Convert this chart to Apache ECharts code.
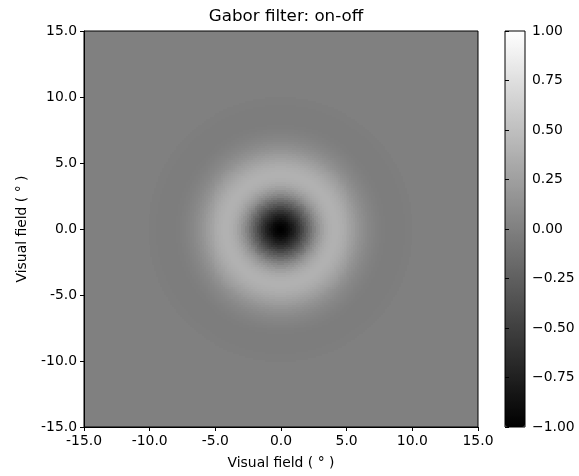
<!DOCTYPE html>
<html>
<head>
<meta charset="utf-8">
<script src="https://cdn.jsdelivr.net/npm/echarts@6/dist/echarts.min.js"></script>
<style>html,body{margin:0;padding:0;background:#fff;}#c{width:579px;height:476px;}</style>
</head>
<body>
<div id="c"></div>
<script>
var radialStep = 0.1;
var radialProfile = [
 -1.000,-0.998,-0.990,-0.978,-0.962,-0.940,-0.915,-0.885,-0.851,-0.813,
 -0.773,-0.729,-0.682,-0.633,-0.583,-0.530,-0.476,-0.422,-0.367,-0.312,
 -0.257,-0.203,-0.150,-0.098,-0.048, 0.000, 0.046, 0.090, 0.131, 0.169,
  0.204, 0.237, 0.266, 0.292, 0.315, 0.335, 0.352, 0.365, 0.376, 0.383,
  0.388, 0.390, 0.390, 0.387, 0.382, 0.375, 0.367, 0.356, 0.344, 0.331,
  0.317, 0.302, 0.287, 0.270, 0.254, 0.237, 0.220, 0.204, 0.187, 0.171,
  0.155, 0.140, 0.125, 0.111, 0.097, 0.084, 0.073, 0.061, 0.051, 0.041,
  0.033, 0.025, 0.017, 0.011, 0.005, 0.000,-0.004,-0.008,-0.011,-0.014,
 -0.016,-0.018,-0.019,-0.020,-0.021,-0.021,-0.021,-0.021,-0.021,-0.020,
 -0.020,-0.019,-0.018,-0.017,-0.016,-0.015,-0.014,-0.013,-0.012,-0.011,
 -0.010
];
var backgroundValue = 0.0;
var fieldMin = -15, fieldMax = 15, cellSize = 0.15;
var axisTicks = [-15, -10, -5, 0, 5, 10, 15];
var colorbarTicks = [-1, -0.75, -0.5, -0.25, 0, 0.25, 0.5, 0.75, 1];
var titleText = 'Gabor filter: on-off';
var axisName = 'Visual field ( \u00b0 )';

var centers = [];
var nCells = Math.round((fieldMax - fieldMin) / cellSize);
for (var i = 0; i < nCells; i++) centers.push((fieldMin + cellSize * (i + 0.5)).toFixed(3));
var cells = [];
for (var ix = 0; ix < nCells; ix++) {
  for (var iy = 0; iy < nCells; iy++) {
    var x = +centers[ix], y = +centers[iy];
    var k = Math.round(Math.sqrt(x * x + y * y) / radialStep);
    var v = k < radialProfile.length ? radialProfile[k] : backgroundValue;
    cells.push([ix, iy, v]);
  }
}

var FONT = 'DejaVu Sans';
var txt = {fontFamily: FONT, fontSize: 13.9, color: '#000'};
var G = {left: 84, top: 31, width: 394, height: 396};
var CB = {left: 505, top: 31, width: 20, height: 396};

function renderCell(params, api) {
  var c = api.coord([api.value(0), api.value(1)]);
  var s = api.size([1, 1]);
  var x0 = Math.floor(c[0] - s[0] / 2), x1 = Math.ceil(c[0] + s[0] / 2);
  var y0 = Math.floor(c[1] - s[1] / 2), y1 = Math.ceil(c[1] + s[1] / 2);
  x0 = Math.max(x0, G.left); x1 = Math.min(x1, G.left + G.width);
  y0 = Math.max(y0, G.top); y1 = Math.min(y1, G.top + G.height);
  return {
    type: 'rect',
    shape: {x: x0, y: y0, width: x1 - x0, height: y1 - y0},
    style: {fill: api.visual('color')},
    silent: true
  };
}

var chart = echarts.init(document.getElementById('c'), null, {renderer: 'canvas'});
chart.setOption({
  animation: false,
  backgroundColor: '#fff',
  title: {
    text: titleText, left: G.left + G.width / 2, top: 3, textAlign: 'center',
    textStyle: {fontFamily: FONT, fontSize: 16.7, fontWeight: 'normal', color: '#000'}
  },
  grid: [
    {left: G.left, top: G.top, width: G.width, height: G.height, show: true, z: 10,
     borderColor: '#000', borderWidth: 1, backgroundColor: 'transparent', containLabel: false},
    {left: CB.left, top: CB.top, width: CB.width, height: CB.height, show: true, z: 10,
     borderColor: '#000', borderWidth: 1, backgroundColor: 'transparent', containLabel: false}
  ],
  xAxis: [
    {type: 'category', gridIndex: 0, data: centers, show: false, position: 'top', boundaryGap: true},
    {type: 'value', gridIndex: 0, min: fieldMin, max: fieldMax, interval: 5, position: 'bottom', z: 10,
     axisLine: {show: true, onZero: false, lineStyle: {color: '#000', width: 1}},
     axisTick: {show: true, length: 4, lineStyle: {color: '#000'}},
     splitLine: {show: false},
     axisLabel: Object.assign({margin: 7, formatter: function (v) { return v.toFixed(1); }}, txt),
     name: axisName, nameLocation: 'middle', nameGap: 29, nameTextStyle: txt},
    {type: 'value', gridIndex: 1, min: 0, max: 1, show: false}
  ],
  yAxis: [
    {type: 'category', gridIndex: 0, data: centers, show: false, position: 'right', boundaryGap: true},
    {type: 'value', gridIndex: 0, min: fieldMin, max: fieldMax, interval: 5, position: 'left', z: 10,
     axisLine: {show: true, onZero: false, lineStyle: {color: '#000', width: 1}},
     axisTick: {show: true, length: 4, lineStyle: {color: '#000'}},
     splitLine: {show: false},
     axisLabel: Object.assign({margin: 7, formatter: function (v) { return v.toFixed(1); }}, txt),
     name: axisName, nameLocation: 'middle', nameGap: 55, nameRotate: 90, nameTextStyle: txt},
    {type: 'value', gridIndex: 1, min: -1, max: 1, interval: 0.25, position: 'right', z: 10,
     axisLine: {show: false},
     axisTick: {show: true, length: 4, lineStyle: {color: '#000'}},
     splitLine: {show: false},
     axisLabel: Object.assign({margin: 7, formatter: function (v) {
       var s = Math.abs(v).toFixed(2); return v < 0 ? '\u2212' + s : s; }}, txt)}
  ],
  visualMap: {
    type: 'continuous', min: -1, max: 1, seriesIndex: 0, dimension: 2, calculable: false,
    orient: 'vertical', left: CB.left, top: CB.top, itemWidth: CB.width, itemHeight: CB.height,
    padding: 0, text: null, showLabel: false, hoverLink: false,
    inRange: {color: ['#000000', '#ffffff']}
  },
  series: [{
    type: 'custom', xAxisIndex: 0, yAxisIndex: 0, data: cells,
    renderItem: renderCell, progressive: 0, silent: true,
    encode: {x: 0, y: 1}
  }]
});
</script>
</body>
</html>
